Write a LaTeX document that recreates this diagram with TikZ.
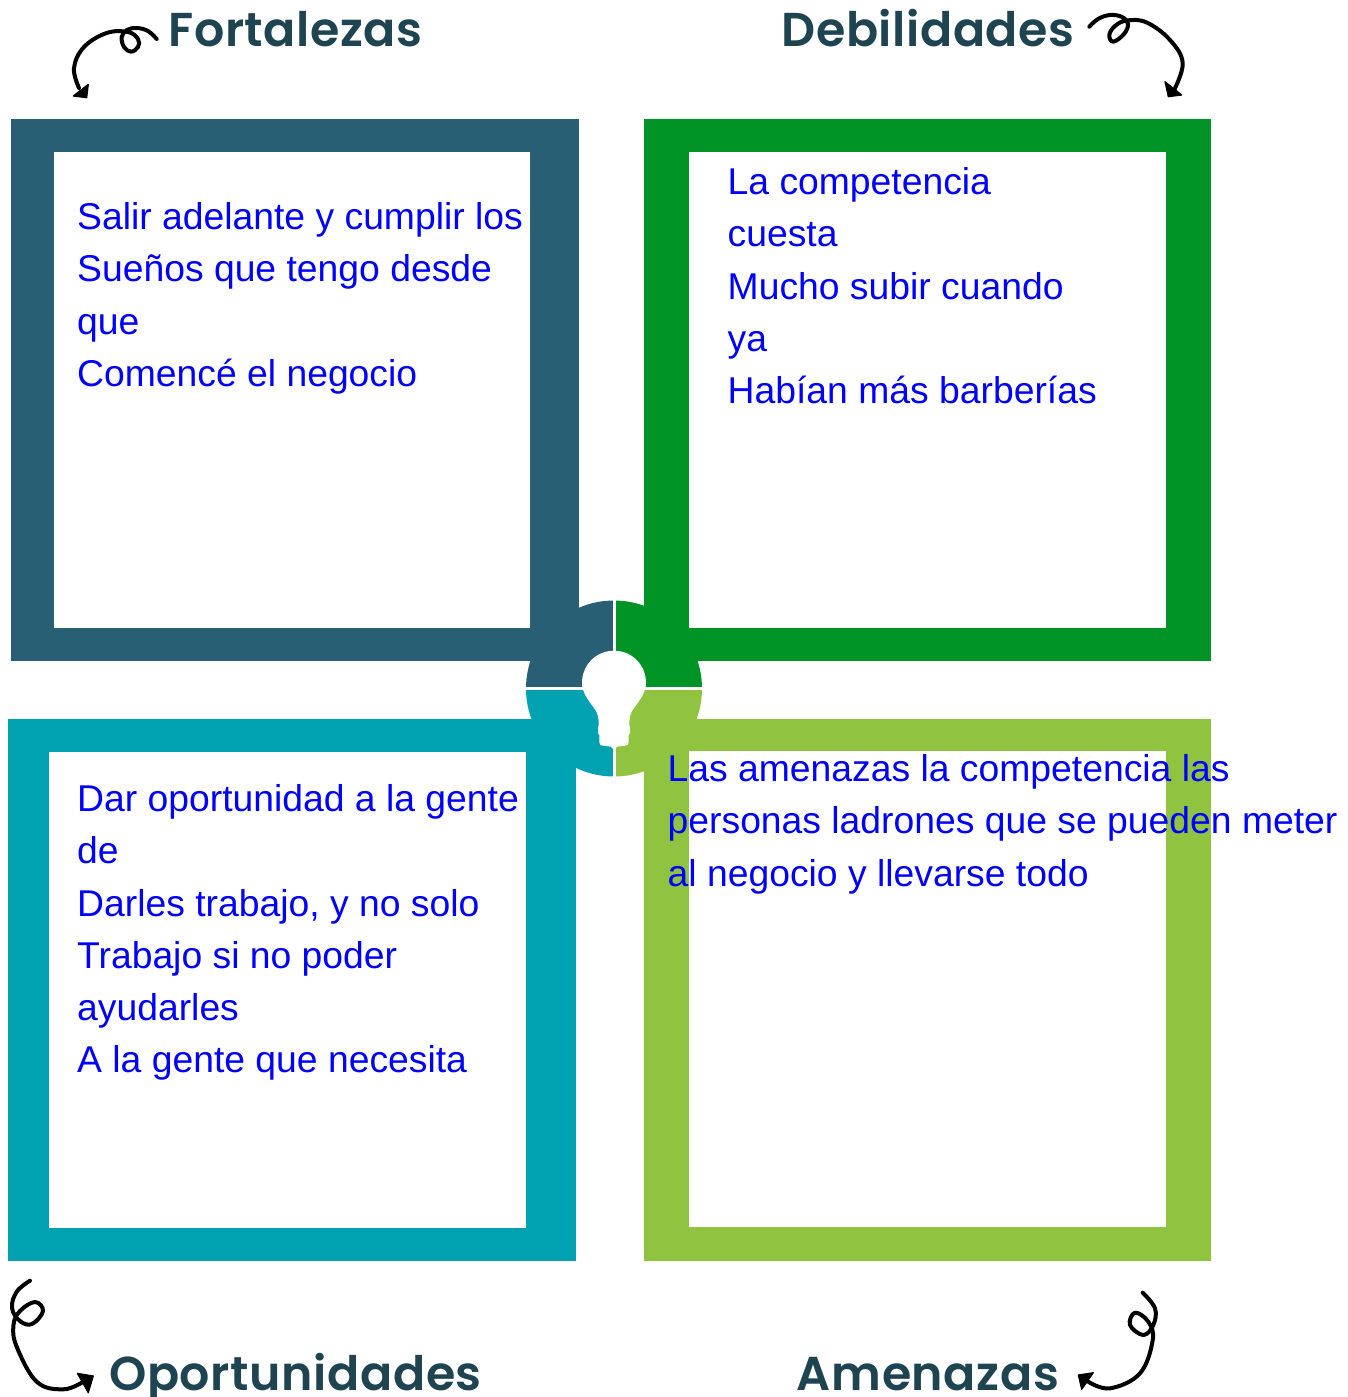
\documentclass[tikz,border=0pt]{standalone}
\usepackage{fontspec}
\setmainfont{Liberation Sans}
\newfontfamily\headfont[LetterSpace=1.3]{Poppins SemiBold}
\definecolor{cblue}{HTML}{285F74}
\definecolor{cgreen}{HTML}{009426}
\definecolor{cteal}{HTML}{00A2B1}
\definecolor{clime}{HTML}{90C440}
\definecolor{chead}{HTML}{1F4451}
\definecolor{ctext}{HTML}{0000FF}
\tikzset{
  bodytext/.style={anchor=base west,inner sep=0pt,text=ctext,font=\fontsize{37.3}{52.25}\selectfont},
  headtext/.style={anchor=base,inner sep=0pt,text=chead,font=\headfont\fontsize{47.5}{50}\selectfont},
  swirl/.style={draw=black,line width=4pt,line cap=round,line join=round},
  swirlhead/.style={fill=black,draw=black,line width=1.2pt,line join=round},
  gap/.style={draw=white,line width=3pt}
}
\begin{document}
\begin{tikzpicture}[x=1pt,y=-1pt]
\useasboundingbox (0,0) rectangle (1347,1397);
% hub quarters
\begin{scope}
\clip (500,580) rectangle (614,688.5);
\fill[cblue] (614,688.5) circle[radius=88];
\end{scope}
\begin{scope}
\clip (614,580) rectangle (730,688.5);
\fill[cgreen] (614,688.5) circle[radius=88];
\end{scope}
\begin{scope}
\clip (500,688.5) rectangle (614,800);
\fill[cteal] (614,688.5) circle[radius=88];
\end{scope}
\begin{scope}
\clip (614,688.5) rectangle (730,800);
\fill[clime] (614,688.5) circle[radius=88];
\end{scope}
% frames
\fill[cblue] (11,119) rectangle (578.5,660.5);
\fill[white] (54,152) rectangle (530,628);
\fill[cgreen] (644,119) rectangle (1211,660.5);
\fill[white] (689,152) rectangle (1166,628);
\fill[cteal] (8,719) rectangle (575.5,1260.5);
\fill[white] (49,752) rectangle (526,1228);
\fill[clime] (644,719) rectangle (1211,1260.5);
\fill[white] (689,751) rectangle (1166,1227);
% hub separators
\draw[gap] (614,599) -- (614,778);
\draw[gap] (525,688.5) -- (703,688.5);
% bulb
\fill[white] (614,650.7)
  .. controls (632,650.7) and (646,665) .. (646,683)
  .. controls (646,692) and (640,700) .. (634,708)
  .. controls (630,713) and (629.3,718) .. (629.3,725.7)
  -- (630,727) -- (630,733) -- (628.7,735) -- (628.7,742)
  .. controls (628.7,745) and (627,745.7) .. (625,745.7)
  -- (617,746.7) -- (614,750) -- (611,746.7) -- (603,745.7)
  .. controls (601,745.7) and (599.3,745) .. (599.3,742)
  -- (599.3,735) -- (598,733) -- (598,727) -- (598.7,725.7)
  .. controls (598.7,718) and (598,713) .. (594,708)
  .. controls (588,700) and (582,692) .. (582,683)
  .. controls (582,665) and (596,650.7) .. (614,650.7) -- cycle;
% swirls
\draw[swirl] plot[smooth,tension=.65] coordinates {(156.7,39) (148,31) (136.7,28) (127,30) (121.7,37) (124,47) (131,51.7) (138,47) (138,39) (128,32) (106.7,33) (84,47) (74,68) (79,88)};
\fill[swirlhead] (73.3,96) -- (86.7,97.7) -- (88.3,84.3) -- cycle;
\draw[swirl] plot[smooth,tension=.65] coordinates {(1089.3,26.7) (1098,19) (1110,15) (1122,17) (1128,24) (1124,34) (1113.3,41.7) (1109.3,35) (1115,26) (1127,20.5) (1146.7,22.5) (1170,40) (1182.7,63.3) (1173.3,91.7)};
\fill[swirlhead] (1165,81.7) -- (1168.3,96.7) -- (1181.7,95) -- cycle;
\draw[swirl] plot[smooth,tension=.65] coordinates {(30,1280.7) (16.7,1291.7) (12,1308) (20,1321) (32,1324) (43,1311) (35,1302) (20,1311) (13.5,1325) (16.7,1346.7) (36.7,1381.7) (63.3,1389.3) (83.3,1381.7)};
\fill[swirlhead] (77.3,1373.3) -- (93.3,1376) -- (88.3,1392.7) -- cycle;
\draw[swirl] plot[smooth,tension=.65] coordinates {(1142.7,1292.7) (1155,1308.3) (1153.3,1325) (1143.3,1335) (1130,1325) (1135,1312.7) (1148.3,1321.7) (1152.7,1340) (1140,1373.3) (1110,1388.3) (1088.3,1381.7)};
\fill[swirlhead] (1078.3,1375) -- (1093.3,1372.7) -- (1081.7,1389.3) -- cycle;
% headings
\node[headtext] (fort) at (295.5,47) {Fortalezas};
\node[headtext] (deb) at (928,47) {Debilidades};
\node[headtext] (opor) at (295.5,1390.5) {Oportunidades};
\node[headtext] (amen) at (928,1390.5) {Amenazas};
% body text
\node[bodytext] (tfort) at (77,229.5) {\begin{tabular}[t]{@{}l@{}}Salir adelante y cumplir los\\Sueños que tengo desde\\que\\Comencé el negocio\end{tabular}};
\node[bodytext] (tdeb) at (727.5,194.5) {\begin{tabular}[t]{@{}l@{}}La competencia\\cuesta\\Mucho subir cuando\\ya\\Habían más barberías\end{tabular}};
\node[bodytext] (topor) at (77,811.5) {\begin{tabular}[t]{@{}l@{}}Dar oportunidad a la gente\\de\\Darles trabajo, y no solo\\Trabajo si no poder\\ayudarles\\A la gente que necesita\end{tabular}};
\node[bodytext] (tamen) at (667.5,781.5) {\begin{tabular}[t]{@{}l@{}}Las amenazas la competencia las\\personas ladrones que se pueden meter\\al negocio y llevarse todo\end{tabular}};
\end{tikzpicture}
\end{document}
